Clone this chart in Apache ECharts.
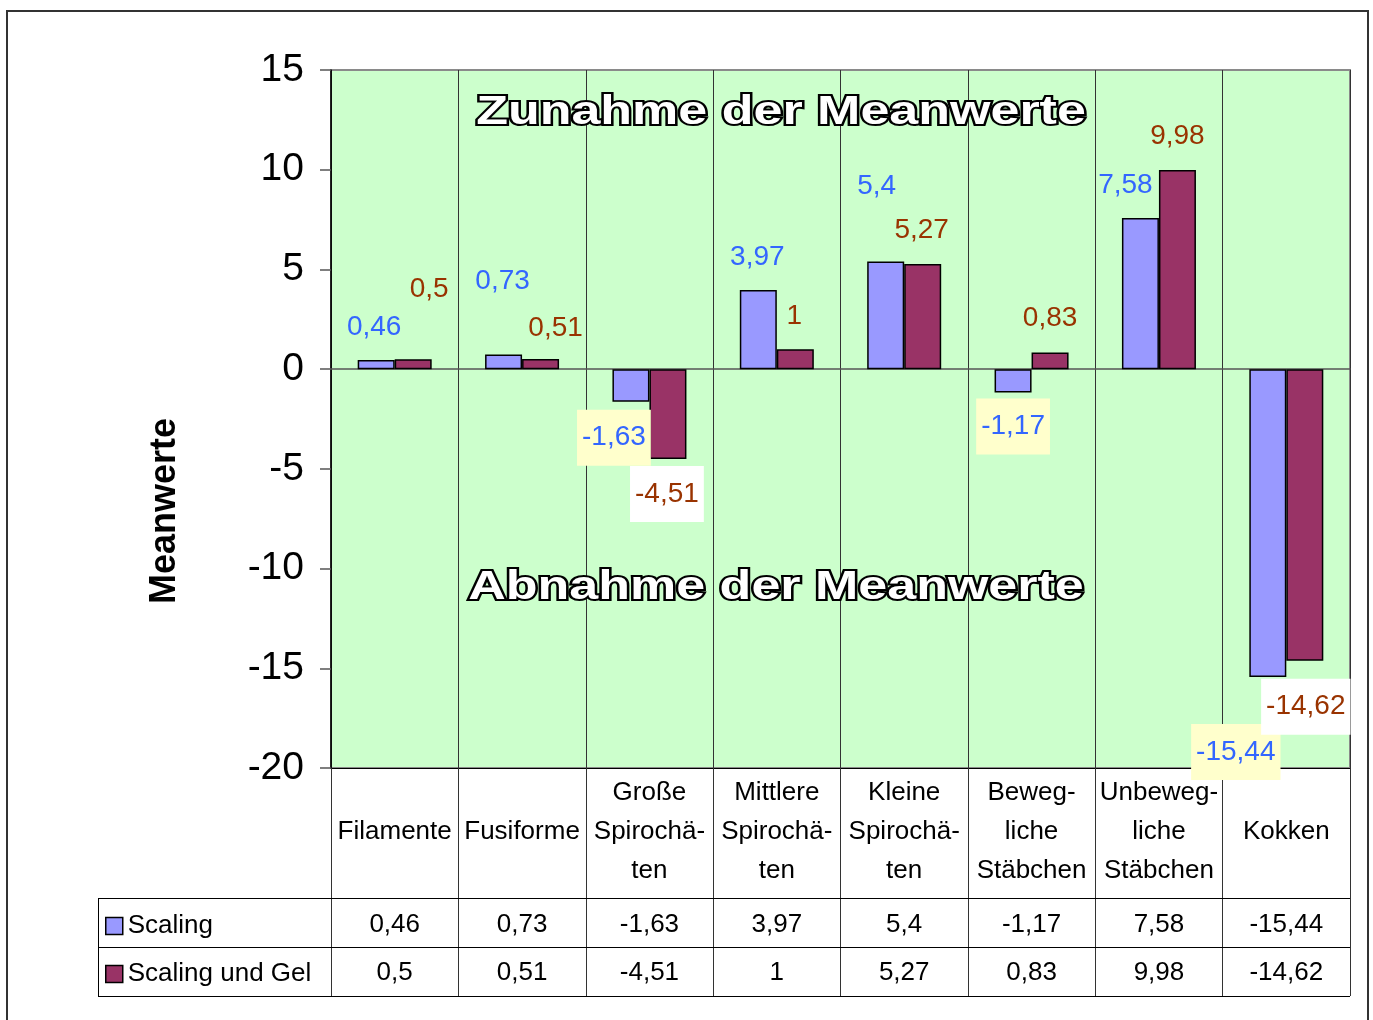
<!DOCTYPE html>
<html>
<head>
<meta charset="utf-8">
<script src="https://cdn.jsdelivr.net/npm/echarts@6/dist/echarts.min.js"></script>
<style>
  html, body { margin: 0; padding: 0; background: #ffffff; }
  #chart { width: 1373px; height: 1020px; }
</style>
</head>
<body>
<div id="chart"></div>
<script>
// Bacteria groups (category labels, wrapped as printed in the table header)
const categories = [
  'Filamente',
  'Fusiforme',
  'Große\nSpirochä-\nten',
  'Mittlere\nSpirochä-\nten',
  'Kleine\nSpirochä-\nten',
  'Beweg-\nliche\nStäbchen',
  'Unbeweg-\nliche\nStäbchen',
  'Kokken'
];

// Change of the mean values per treatment
const scaling    = [0.46, 0.73, -1.63, 3.97, 5.4, -1.17, 7.58, -15.44];
const scalingGel = [0.5, 0.51, -4.51, 1, 5.27, 0.83, 9.98, -14.62];

const seriesNames = ['Scaling', 'Scaling und Gel'];

// Value axis range and step
const yMin = -20, yMax = 15, yStep = 5;

// Hand-placed nudges for the value labels (pixels, relative to the bar end)
const scalingLabelShift = [[-2, -17], [-1, -57], [-17, 8], [-1, -17], [-9, -59], [0, 6], [-15, -17], [-32, 47]];
const gelLabelShift     = [[16, -54], [15, -15], [-1, 7], [-1, -17], [-1, -18], [0, -18], [0, -18], [1, 18]];

const FONT = "'Liberation Sans', Arial, Helvetica, sans-serif";
const fmt = v => String(v).replace('.', ',');

// Layout
const W = 1373, H = 1020;
const plotLeft = 331, plotRight = 1350, plotTop = 70, plotBottom = 768;
const headRowH = 130, valueRowH = 49;
const tableLeft = 98;
const row1 = plotBottom + headRowH;      // 898
const row2 = row1 + valueRowH;           // 947
const row3 = row2 + valueRowH;           // 996

function barData(values, shifts, negBg) {
  return values.map((v, i) => ({
    value: v,
    label: v < 0
      ? { position: 'bottom', offset: shifts[i], backgroundColor: negBg, padding: [12, 5, 12, 5] }
      : { position: 'top', offset: shifts[i], padding: 0 }
  }));
}

const labelBase = {
  show: true,
  distance: 0,
  fontFamily: FONT,
  fontSize: 28,
  lineHeight: 32,
  formatter: p => fmt(p.value)
};

const chart = echarts.init(document.getElementById('chart'), null, { renderer: 'canvas' });

const hLine = (y, x1, x2) => ({
  type: 'line', silent: true, z: 5,
  shape: { x1: x1, y1: y + 0.5, x2: x2, y2: y + 0.5 },
  style: { stroke: '#000', lineWidth: 1 }
});

const option = {
  backgroundColor: '#ffffff',
  animation: false,
  textStyle: { fontFamily: FONT },
  grid: {
    left: plotLeft, top: plotTop,
    right: W - plotRight, bottom: H - plotBottom,
    show: true,
    backgroundColor: '#CCFFCC',
    borderColor: '#8a8a8a',
    borderWidth: 2,
    containLabel: false,
    outerBoundsMode: 'none'
  },
  legend: {
    data: seriesNames,
    orient: 'vertical',
    left: 105,
    top: 913,
    padding: 0,
    itemWidth: 17,
    itemHeight: 17,
    itemGap: 22,
    icon: 'rect',
    selectedMode: false,
    itemStyle: { borderColor: '#000', borderWidth: 1.5 },
    textStyle: { fontFamily: FONT, fontSize: 26, lineHeight: 26, color: '#000' }
  },
  xAxis: [
    { // zero line + vertical dividers inside the plot
      type: 'category', data: categories, gridIndex: 0, position: 'bottom',
      axisLine: { show: true, onZero: true, lineStyle: { color: '#555', width: 1.5 } },
      axisTick: { show: false },
      axisLabel: { show: false },
      splitLine: { show: true, interval: 0, lineStyle: { color: '#333', width: 1 } }
    },
    { // table header row: category names
      type: 'category', data: categories, gridIndex: 0, position: 'bottom', offset: 0,
      axisLine: { show: true, onZero: false, lineStyle: { color: '#000', width: 1 } },
      axisTick: { show: true, interval: 0, length: headRowH, lineStyle: { color: '#333', width: 1 } },
      axisLabel: {
        show: true, interval: 0, margin: 64, verticalAlign: 'middle',
        fontFamily: FONT, fontSize: 26, lineHeight: 39, color: '#000', align: 'center'
      },
      splitLine: { show: false }
    },
    { // table row: Scaling
      type: 'category', data: categories, gridIndex: 0, position: 'bottom', offset: headRowH,
      axisLine: { show: false, onZero: false },
      axisTick: { show: true, interval: 0, length: valueRowH, lineStyle: { color: '#333', width: 1 } },
      axisLabel: {
        show: true, interval: 0, margin: 27, verticalAlign: 'middle',
        fontFamily: FONT, fontSize: 26, color: '#000',
        formatter: (v, i) => fmt(scaling[i])
      },
      splitLine: { show: false }
    },
    { // table row: Scaling und Gel
      type: 'category', data: categories, gridIndex: 0, position: 'bottom', offset: headRowH + valueRowH,
      axisLine: { show: false, onZero: false },
      axisTick: { show: true, interval: 0, length: valueRowH, lineStyle: { color: '#333', width: 1 } },
      axisLabel: {
        show: true, interval: 0, margin: 26, verticalAlign: 'middle',
        fontFamily: FONT, fontSize: 26, color: '#000',
        formatter: (v, i) => fmt(scalingGel[i])
      },
      splitLine: { show: false }
    }
  ],
  yAxis: {
    type: 'value',
    min: yMin, max: yMax, interval: yStep,
    axisLine: { show: true, lineStyle: { color: '#000', width: 1.5 } },
    axisTick: { show: true, length: 11, lineStyle: { color: '#555', width: 1.5 } },
    axisLabel: { fontFamily: FONT, fontSize: 39, color: '#000', margin: 27 },
    splitLine: { show: false }
  },
  series: [
    {
      name: seriesNames[0],
      type: 'bar',
      xAxisIndex: 0,
      barWidth: 37,
      barGap: '0%',
      itemStyle: { color: '#9999FF', borderColor: '#000', borderWidth: 1.5 },
      label: Object.assign({}, labelBase, { color: '#3366FF' }),
      data: barData(scaling, scalingLabelShift, '#FFFFCC')
    },
    {
      name: seriesNames[1],
      type: 'bar',
      xAxisIndex: 0,
      barWidth: 37,
      barGap: '0%',
      itemStyle: { color: '#993366', borderColor: '#000', borderWidth: 1.5 },
      label: Object.assign({}, labelBase, { color: '#993300' }),
      data: barData(scalingGel, gelLabelShift, '#FFFFFF')
    }
  ],
  graphic: [
    { // outer frame of the chart area
      type: 'rect', silent: true, z: 0,
      shape: { x: 7, y: 11, width: 1361, height: 1030 },
      style: { fill: 'none', stroke: '#333', lineWidth: 2 }
    },
    // data table rules
    hLine(row1, tableLeft, plotRight),
    hLine(row2, tableLeft, plotRight),
    hLine(row3, tableLeft, plotRight),
    {
      type: 'line', silent: true, z: 5,
      shape: { x1: tableLeft + 0.5, y1: row1, x2: tableLeft + 0.5, y2: row3 + 1 },
      style: { stroke: '#000', lineWidth: 1 }
    },
    { // value axis title
      type: 'text', silent: true, z: 5,
      x: 165, y: 511, rotation: Math.PI / 2,
      style: {
        text: 'Meanwerte', fontFamily: FONT, fontSize: 36, fontWeight: 'bold',
        fill: '#000', align: 'center', verticalAlign: 'middle'
      }
    },
    { // upper region caption
      type: 'text', silent: true, z: 5,
      x: 781, y: 113, scaleX: 1.3,
      style: {
        text: 'Zunahme der Meanwerte', fontFamily: FONT, fontSize: 40, fontWeight: 'bold',
        fill: '#fff', stroke: '#000', lineWidth: 4, align: 'center', verticalAlign: 'middle'
      }
    },
    { // lower region caption
      type: 'text', silent: true, z: 5,
      x: 776, y: 588, scaleX: 1.3,
      style: {
        text: 'Abnahme der Meanwerte', fontFamily: FONT, fontSize: 40, fontWeight: 'bold',
        fill: '#fff', stroke: '#000', lineWidth: 4, align: 'center', verticalAlign: 'middle'
      }
    }
  ]
};

chart.setOption(option);
</script>
</body>
</html>
